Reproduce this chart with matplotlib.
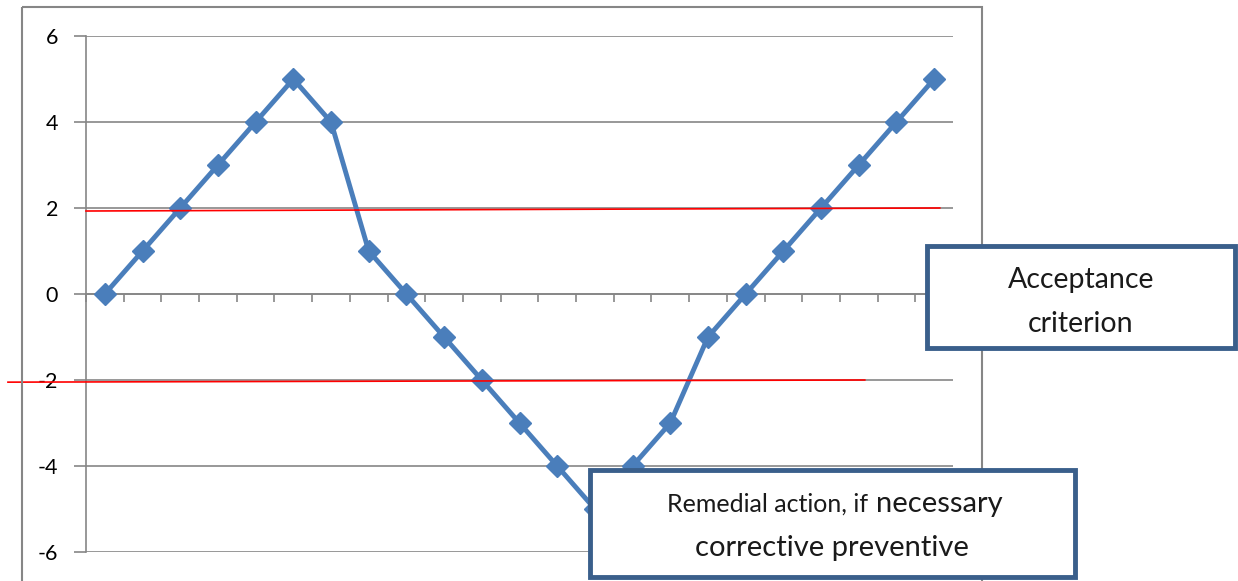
import matplotlib
matplotlib.use('Agg')
import matplotlib.pyplot as plt
from matplotlib.patches import Rectangle

# ---- data ----
values = [0, 1, 2, 3, 4, 5, 4, 1, 0, -1, -2, -3, -4, -5, -4, -3, -1, 0, 1, 2, 3, 4, 5]
y_ticks = [-6, -4, -2, 0, 2, 4, 6]
upper_limit_x = [-0.5, 22.15]
upper_limit_y = [1.93, 2.0]
lower_limit_x = [-2.57, 20.16]
lower_limit_y = [-2.05, -2.0]

plt.rcParams['font.family'] = ['Lato', 'DejaVu Sans']
plt.rcParams['axes.unicode_minus'] = False

W, H = 1238, 581
fig = plt.figure(figsize=(W / 100, H / 100), dpi=100)
fig.patch.set_facecolor('white')

GRAY = '#868686'
BLUE = '#4A7EBB'

ax = fig.add_axes([86 / W, 1 - 552 / H, (953 - 86) / W, (552 - 36) / H])
x = list(range(len(values)))
ax.plot(x, values, color=BLUE, lw=3.5, marker='D', ms=11, zorder=3, clip_on=False)
ax.set_xlim(-0.5, len(values) - 0.5)
ax.set_ylim(-6, 6)
ax.set_yticks(y_ticks)
ax.yaxis.grid(True, color=GRAY, lw=1.2)
ax.set_axisbelow(True)
for s in ['top', 'right']:
    ax.spines[s].set_visible(False)
ax.spines['left'].set_color(GRAY)
ax.spines['left'].set_linewidth(1.2)
ax.spines['bottom'].set_color(GRAY)
ax.spines['bottom'].set_linewidth(1.2)
ax.spines['bottom'].set_position(('data', 0))
ax.set_xticks([i - 0.5 for i in range(len(values) + 1)])
ax.tick_params(axis='x', length=6, width=1.2, color=GRAY, labelbottom=False, direction='out')
ax.tick_params(axis='y', length=9, width=1.2, color=GRAY, labelsize=15.5, pad=11, labelcolor='black')

ax.plot(upper_limit_x, upper_limit_y, color='red', lw=1.2, clip_on=False, zorder=4)
ax.plot(lower_limit_x, lower_limit_y, color='red', lw=1.2, clip_on=False, zorder=4)

# ---- overlay (frame and text boxes) in pixel coordinates ----
ov = fig.add_axes([0, 0, 1, 1], zorder=5)
ov.set_xlim(0, W)
ov.set_ylim(H, 0)
ov.axis('off')
ov.patch.set_alpha(0)
ov.add_patch(Rectangle((22, 7), 960, 620, fill=False, ec=GRAY, lw=1.5))

BOX = '#3A5F8B'
TXT = '#1a1a1a'
ov.add_patch(Rectangle((927, 246), 308, 102, fc='white', ec=BOX, lw=3.5))
ov.text(1081, 288, 'Acceptance', ha='center', va='baseline', fontsize=20.5, color=TXT)
ov.text(1081, 332, 'criterion', ha='center', va='baseline', fontsize=20.5, color=TXT)

ov.add_patch(Rectangle((590, 470), 485, 107, fc='white', ec=BOX, lw=3.5))
ov.text(868, 512, 'Remedial action, if', ha='right', va='baseline', fontsize=18, color=TXT)
ov.text(876, 512, 'necessary', ha='left', va='baseline', fontsize=21, color=TXT)
ov.text(832, 556, 'corrective preventive', ha='center', va='baseline', fontsize=21, color=TXT)

fig.savefig('out.png', dpi=100)
